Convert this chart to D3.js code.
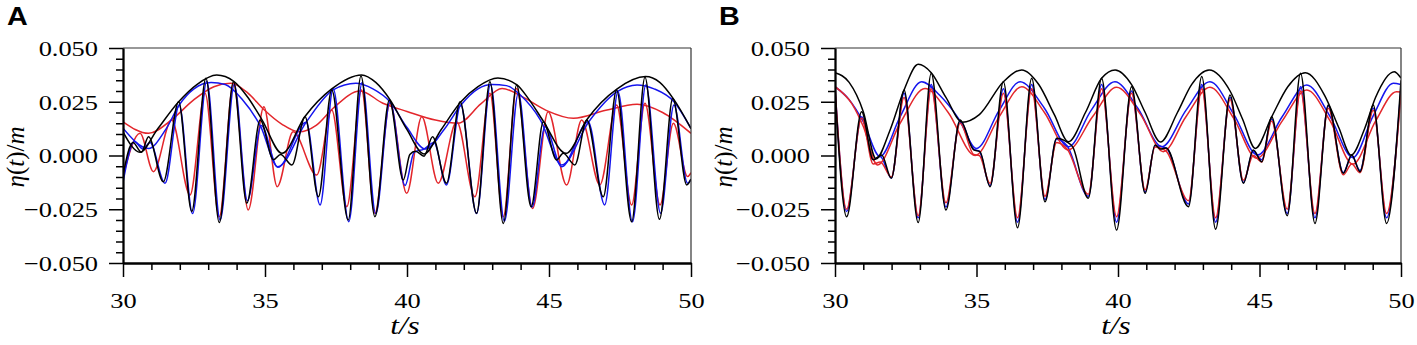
<!DOCTYPE html>
<html><head><meta charset="utf-8">
<script src="https://cdn.jsdelivr.net/npm/d3@7"></script>
<style>body{margin:0;background:#fff}svg{display:block}</style>
</head><body><svg id="c" width="1417" height="345"></svg>
<script>
// ---------- tick labels ----------
const xTicks = [30, 35, 40, 45, 50];
const xMinorTicks = [31, 32, 33, 34, 36, 37, 38, 39, 41, 42, 43, 44, 46, 47, 48, 49];
const yTicks = [-0.05, -0.025, 0, 0.025, 0.05];
const yMinorTicks = [-0.045, -0.04, -0.035, -0.03, -0.02, -0.015, -0.01, -0.005,
                     0.005, 0.01, 0.015, 0.02, 0.03, 0.035, 0.04, 0.045];
const panelLetters = ["A", "B"];

// ---------- panel A : wave signals [t, eta] ----------
const aBlackSig = [[30,-0.009],[30.35,0.006],[30.65,0.0015],[30.9,0.0087],[31.42,-0.0122],[31.96,0.025],[32.42,-0.026],[32.92,0.0359],[33.39,-0.0312],[33.89,0.0343],[34.36,-0.0222],[34.83,0.0165],[35.3,-0.002],[35.55,0.0005],[35.95,-0.0044],[36.41,0.018],[36.88,-0.0192],[37.35,0.0305],[37.93,-0.030],[38.38,0.037],[38.87,-0.0285],[39.38,0.0258],[39.87,-0.0114],[40.1,0.0005],[40.3,0.002],[40.6,-0.0003],[40.9,0.0087],[41.39,-0.0129],[41.87,0.025],[42.45,-0.0269],[42.92,0.0343],[43.39,-0.0316],[43.86,0.0328],[44.37,-0.0238],[44.8,0.0157],[45.27,-0.0021],[45.5,0.001],[45.91,-0.0044],[46.33,0.0165],[46.91,-0.0192],[47.38,0.0305],[47.91,-0.0308],[48.38,0.0364],[48.89,-0.0297],[49.36,0.0266],[49.85,-0.0137],[50,-0.011]];
const aBlueSig = [[30,-0.0125],[30.4,0.0065],[30.7,0.003],[30.95,0.006],[31.48,-0.0129],[31.98,0.0235],[32.45,-0.027],[32.95,0.0345],[33.42,-0.030],[33.92,0.033],[34.38,-0.021],[34.87,0.014],[35.45,-0.0055],[36.45,0.0155],[36.94,-0.023],[37.4,0.031],[37.95,-0.0308],[38.42,0.034],[38.9,-0.027],[39.4,0.025],[39.93,-0.014],[40.25,0.0015],[40.6,0.003],[40.95,0.006],[41.39,-0.0137],[41.89,0.0235],[42.45,-0.027],[42.94,0.033],[43.43,-0.0305],[43.92,0.029],[44.4,-0.024],[44.86,0.0134],[45.45,-0.0052],[46.38,0.0157],[46.96,-0.023],[47.43,0.0297],[47.94,-0.0308],[48.41,0.0328],[48.93,-0.0269],[49.4,0.0235],[49.88,-0.0129],[50,-0.011]];
const aRedSig = [[30,-0.0098],[30.6,0.0103],[31.07,-0.0075],[31.71,0.0165],[32.36,-0.0184],[32.89,0.029],[33.39,-0.0285],[33.89,0.0336],[34.41,-0.0253],[34.96,0.0227],[35.43,-0.0145],[35.99,0.011],[36.82,-0.0091],[37.35,0.0212],[37.88,-0.0238],[38.4,0.0305],[38.87,-0.0269],[39.4,0.0243],[39.99,-0.0176],[40.52,0.018],[41.1,-0.0129],[41.75,0.0157],[42.39,-0.0192],[42.92,0.029],[43.39,-0.0285],[43.86,0.0312],[44.42,-0.0246],[44.97,0.0204],[45.62,-0.0137],[46.15,0.0165],[46.79,-0.0137],[47.38,0.0235],[47.91,-0.023],[48.38,0.0243],[48.91,-0.023],[49.38,0.015],[49.88,-0.0098],[50,-0.008]];
// panel A : envelopes
const aBlackEnv = [[30,0.011],[30.6,0.0015],[31.2,0.012],[31.96,0.025],[32.6,0.033],[33.3,0.0374],[33.9,0.0345],[34.4,0.027],[34.9,0.0165],[35.6,0.001],[36.4,0.018],[37.35,0.031],[38.4,0.0375],[38.9,0.034],[39.4,0.026],[40.0,0.012],[40.6,0.0007],[41.2,0.012],[41.9,0.025],[42.5,0.032],[43.2,0.036],[43.86,0.033],[44.3,0.026],[44.8,0.016],[45.6,0.001],[46.35,0.017],[47.4,0.031],[48.4,0.0367],[48.9,0.034],[49.4,0.026],[50,0.0125]];
const aBlueEnv = [[30,0.0127],[30.9,0.0033],[31.5,0.012],[31.98,0.0235],[32.5,0.031],[33.1,0.0339],[33.6,0.033],[34.2,0.026],[34.85,0.0134],[35.45,-0.0052],[36.45,0.0155],[37.4,0.0305],[38.2,0.0336],[38.8,0.031],[39.4,0.025],[40.0,0.013],[40.65,0.003],[41.3,0.012],[41.9,0.0235],[42.5,0.031],[43.0,0.033],[43.5,0.0325],[44.0,0.028],[44.7,0.0165],[45.45,-0.0044],[46.4,0.0157],[47.4,0.0297],[48.1,0.0328],[48.7,0.031],[49.4,0.025],[50,0.0125]];
const aRedEnv = [[30,0.0157],[30.9,0.0103],[31.7,0.0165],[32.5,0.026],[33.2,0.032],[33.8,0.0336],[34.4,0.029],[34.95,0.0215],[35.6,0.0145],[36.2,0.011],[36.8,0.014],[37.4,0.022],[38.35,0.0300],[39.15,0.0243],[40.0,0.0205],[41.0,0.0165],[41.8,0.015],[42.6,0.024],[43.35,0.0312],[44.1,0.027],[44.9,0.021],[45.86,0.0173],[47.0,0.021],[48.1,0.0238],[49.0,0.02],[50,0.0103]];

// ---------- panel B : wave signals ----------
const bBlackSig = [[30,0.031],[30.41,-0.0285],[30.94,0.0204],[31.35,-0.002],[31.65,0.0002],[31.99,-0.0106],[32.44,0.0305],[32.94,-0.0312],[33.4,0.0382],[33.92,-0.0253],[34.42,0.0165],[34.9,0.0026],[35.12,0.0018],[35.48,-0.0145],[35.95,0.0343],[36.45,-0.0336],[36.95,0.0359],[37.42,-0.0215],[37.83,0.008],[38.2,0.0062],[38.4,0.004],[38.95,-0.0199],[39.42,0.0359],[39.95,-0.0347],[40.48,0.032],[40.96,-0.0176],[41.31,0.0049],[41.5,0.003],[41.7,0.0035],[42.49,-0.0238],[42.96,0.0367],[43.45,-0.0343],[43.96,0.0281],[44.43,-0.0129],[44.78,0.0026],[45.08,-0.0029],[45.43,0.018],[45.98,-0.028],[46.45,0.0382],[46.96,-0.0316],[47.43,0.0235],[47.96,-0.0083],[48.26,0.0002],[48.55,-0.0075],[49.02,0.0235],[49.49,-0.0316],[50,0.035]];
const bBlueSig = [[30,0.032],[30.41,-0.026],[30.94,0.018],[31.35,-0.002],[31.6,-0.0005],[31.99,-0.0105],[32.44,0.029],[32.94,-0.029],[33.4,0.033],[33.92,-0.024],[34.42,0.016],[34.9,0.003],[35.1,0.002],[35.48,-0.014],[35.95,0.031],[36.45,-0.031],[36.95,0.033],[37.42,-0.0205],[37.83,0.0075],[38.2,0.0045],[38.95,-0.019],[39.42,0.033],[39.95,-0.031],[40.48,0.030],[40.96,-0.017],[41.31,0.0045],[41.7,0.0035],[42.49,-0.0225],[42.96,0.033],[43.45,-0.031],[43.96,0.027],[44.43,-0.0125],[44.78,0.002],[45.08,-0.002],[45.43,0.017],[45.98,-0.027],[46.45,0.032],[46.96,-0.029],[47.43,0.023],[47.96,-0.008],[48.26,0.0],[48.55,-0.007],[49.02,0.022],[49.49,-0.029],[50,0.032]];
const bRedSig = [[30,0.032],[30.41,-0.025],[30.94,0.0175],[31.35,-0.004],[31.6,-0.003],[31.99,-0.0100],[32.44,0.027],[32.94,-0.028],[33.4,0.031],[33.92,-0.022],[34.42,0.015],[34.9,0.0005],[35.1,0.0],[35.48,-0.013],[35.95,0.029],[36.45,-0.029],[36.95,0.031],[37.42,-0.019],[37.83,0.006],[38.2,0.003],[38.95,-0.018],[39.42,0.031],[39.95,-0.0285],[40.48,0.029],[40.96,-0.016],[41.31,0.004],[41.7,0.002],[42.49,-0.021],[42.96,0.031],[43.45,-0.029],[43.96,0.026],[44.43,-0.0115],[44.78,0.0],[45.08,-0.003],[45.43,0.016],[45.98,-0.025],[46.45,0.030],[46.96,-0.027],[47.43,0.022],[47.96,-0.009],[48.26,-0.004],[48.55,-0.008],[49.02,0.021],[49.49,-0.027],[50,0.029]];
// panel B : envelopes
const bBlackEnv = [[30,0.0385],[30.5,0.034],[31.0,0.0204],[31.45,-0.0015],[31.95,0.012],[32.44,0.0305],[32.94,0.0424],[33.4,0.0385],[33.92,0.027],[34.5,0.0155],[35.1,0.019],[35.95,0.0343],[36.6,0.0398],[37.2,0.033],[37.75,0.019],[38.25,0.0064],[38.85,0.02],[39.42,0.0359],[39.9,0.0398],[40.48,0.033],[40.96,0.02],[41.5,0.0063],[42.1,0.02],[42.6,0.033],[43.22,0.0398],[43.96,0.03],[44.4,0.017],[44.85,0.0033],[45.43,0.018],[46.0,0.032],[46.62,0.0385],[47.3,0.028],[47.8,0.013],[48.24,0.0002],[48.7,0.012],[49.1,0.027],[49.76,0.039],[50,0.036]];
const bBlueEnv = [[30,0.032],[30.5,0.026],[31.0,0.0157],[31.59,-0.0005],[32.3,0.018],[33.06,0.0343],[33.7,0.028],[34.36,0.0173],[35.0,0.0033],[35.8,0.021],[36.54,0.0343],[37.4,0.022],[38.25,0.0041],[39.05,0.021],[39.89,0.0343],[40.7,0.022],[41.55,0.0041],[42.4,0.021],[43.25,0.0343],[44.1,0.019],[44.93,0.0002],[45.8,0.018],[46.67,0.0328],[47.5,0.018],[48.3,-0.001],[49.0,0.018],[49.73,0.0336],[50,0.033]];
const bRedEnv = [[30,0.032],[30.6,0.024],[31.0,0.0135],[31.5,-0.0044],[32.3,0.015],[33.18,0.0312],[34.0,0.02],[34.95,0.0],[35.8,0.018],[36.6,0.032],[37.4,0.02],[38.24,0.0026],[39.1,0.018],[39.95,0.0317],[40.8,0.019],[41.6,0.0018],[42.4,0.018],[43.25,0.0317],[44.1,0.017],[44.9,-0.0013],[45.8,0.016],[46.67,0.0305],[47.5,0.016],[48.3,-0.004],[49.1,0.016],[49.84,0.0297],[50,0.0295]];

// ---------- drawing ----------
const BLUE = "#1515ee", RED = "#e3262b", BLACK = "#000";
const SERIF = "Liberation Serif", SANS = "Liberation Sans";
const SX = 1.2;           // horizontal stretch of the text in the reference
const svg = d3.select("#c");
const TOP = 48, BOT = 263;

const panels = [
  {letter: panelLetters[0], x0: 123, x1: 691, lx: 7, ylx: 24,
   series: [[aRedEnv, RED], [aRedSig, RED], [aBlueEnv, BLUE], [aBlueSig, BLUE], [aBlackEnv, BLACK], [aBlackSig, BLACK]]},
  {letter: panelLetters[1], x0: 835, x1: 1401, lx: 719, ylx: 732,
   series: [[bBlueEnv, BLUE], [bBlueSig, BLUE], [bRedEnv, RED], [bRedSig, RED], [bBlackEnv, BLACK], [bBlackSig, BLACK]]}
];

panels.forEach(p => {
  const g = svg.append("g");
  const x = d3.scaleLinear().domain([30, 50]).range([p.x0, p.x1]);
  const y = d3.scaleLinear().domain([-0.05, 0.05]).range([BOT, TOP]);

  const clipId = "clip" + p.letter;
  g.append("clipPath").attr("id", clipId).append("rect")
    .attr("x", p.x0).attr("y", TOP).attr("width", p.x1 - p.x0).attr("height", BOT - TOP);

  const line = d3.line().x(d => x(d[0])).y(d => y(d[1])).curve(d3.curveMonotoneX);
  const lg = g.append("g").attr("clip-path", `url(#${clipId})`);
  p.series.forEach(([data, col]) => {
    lg.append("path").attr("d", line(data)).attr("fill", "none")
      .attr("stroke", col).attr("stroke-width", 1.5).attr("stroke-linejoin", "round");
  });

  g.append("line").attr("x1", p.x0).attr("x2", p.x1).attr("y1", TOP).attr("y2", TOP)
    .attr("stroke", "#333").attr("stroke-width", 1.2);
  g.append("line").attr("x1", p.x1).attr("x2", p.x1).attr("y1", TOP).attr("y2", BOT)
    .attr("stroke", "#333").attr("stroke-width", 1.2);

  const gxm = g.append("g").attr("transform", `translate(0,${BOT})`)
    .call(d3.axisBottom(x).tickValues(xMinorTicks).tickSize(7).tickSizeOuter(0).tickFormat(""));
  const gx = g.append("g").attr("transform", `translate(0,${BOT})`)
    .call(d3.axisBottom(x).tickValues(xTicks).tickSize(14).tickSizeOuter(0).tickFormat(d3.format("d")));
  const gym = g.append("g").attr("transform", `translate(${p.x0},0)`)
    .call(d3.axisLeft(y).tickValues(yMinorTicks).tickSize(7).tickSizeOuter(0).tickFormat(""));
  const gy = g.append("g").attr("transform", `translate(${p.x0},0)`)
    .call(d3.axisLeft(y).tickValues(yTicks).tickSize(14).tickSizeOuter(0).tickFormat(d3.format(".3f")));

  [gxm, gx, gym, gy].forEach(a => {
    a.attr("font-family", SERIF).attr("font-size", 22);
    a.selectAll("path.domain").attr("stroke", "#000").attr("stroke-width", 1.8);
    a.selectAll(".tick line").attr("stroke", "#000").attr("stroke-width", 1.5);
  });
  gx.selectAll("text").attr("font-family", SERIF).attr("font-size", 22).attr("fill", "#000")
    .attr("y", 29).attr("dy", "0.71em").attr("transform", `scale(${SX},1)`);
  gy.selectAll("text").attr("font-family", SERIF).attr("font-size", 22).attr("fill", "#000")
    .attr("x", -25 / SX).attr("dy", "0.33em").attr("transform", `scale(${SX},1)`);

  g.append("text").attr("font-family", SERIF).attr("font-size", 26).attr("font-style", "italic")
    .attr("transform", `translate(${(p.x0 + p.x1) / 2 - 2},334) scale(${SX},1)`)
    .attr("text-anchor", "middle").text("t/s");

  const yt = g.append("text").attr("font-family", SERIF).attr("font-size", 25)
    .attr("transform", `translate(${p.ylx},157) rotate(-90)`)
    .attr("text-anchor", "middle");
  yt.append("tspan").attr("font-style", "italic").text("η");
  yt.append("tspan").text("(");
  yt.append("tspan").attr("font-style", "italic").text("t");
  yt.append("tspan").text(")/");
  yt.append("tspan").attr("font-style", "italic").text("m");

  g.append("text").attr("font-family", SANS).attr("font-weight", "bold").attr("font-size", 25)
    .attr("transform", `translate(${p.lx},25) scale(1.15,1)`).text(p.letter);
});
</script></body></html>
